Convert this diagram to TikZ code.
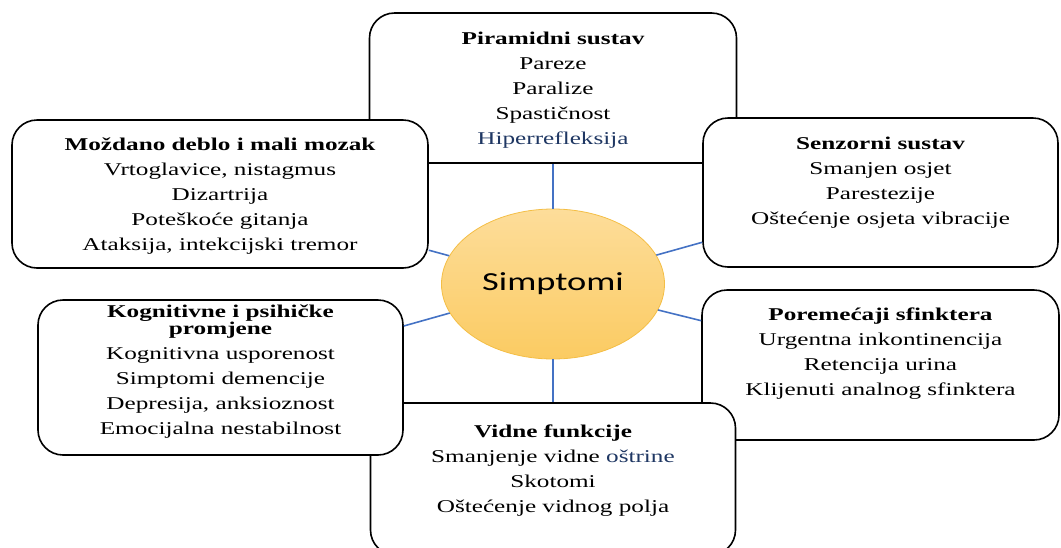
\documentclass[tikz,border=0pt]{standalone}
\usepackage{fontspec}
\setmainfont{Liberation Serif}[FakeStretch=1.4]
\newfontfamily\simfont{Carlito}[FakeStretch=1.4]
\usetikzlibrary{shapes.geometric,positioning}
\definecolor{linkblue}{HTML}{4472C4}
\definecolor{ovaltop}{HTML}{FDDD9A}
\definecolor{ovalbot}{HTML}{FBCB62}
\definecolor{ovalline}{HTML}{F4BE45}
\definecolor{navytxt}{HTML}{1F3763}

\begin{document}
\begin{tikzpicture}[x=1pt,y=-1pt]
		\tikzstyle{box}=[draw,line width=1.6pt,fill=white,rounded corners=25pt,inner sep=0pt]
		\tikzstyle{txt}=[align=center,inner sep=0pt,font=\fontsize{18}{25}\selectfont]
		\tikzstyle{link}=[draw=linkblue,line width=1.6pt]

		\useasboundingbox (0,0) rectangle (1061,547);

		\node[ellipse,draw=ovalline,line width=0.8pt,top color=ovaltop,bottom color=ovalbot,minimum width=223pt,minimum height=150pt,inner sep=0pt](simp) at (553,284){\simfont\fontsize{26}{30}\selectfont Simptomi};

		\node[box,minimum width=367pt,minimum height=150pt](piramid) at (553,88){};
		\node[box,minimum width=416pt,minimum height=148pt](mozdano) at (220,194){};
		\node[box,minimum width=355pt,minimum height=149pt](senzor) at (880.5,192.5){};
		\node[box,minimum width=357pt,minimum height=150pt](sfinkter) at (880.5,365){};
		\node[box,minimum width=365pt,minimum height=152pt](vidne) at (553,479){};
		\node[box,minimum width=365pt,minimum height=155pt](kognit) at (220.5,377.5){};

		\node[txt,below=20pt of piramid.north](piramid-t){\textbf{Piramidni sustav}\\Pareze\\Paralize\\Spastičnost\\\textcolor{navytxt}{Hiperrefleksija}};
		\node[txt,below=18pt of mozdano.north](mozdano-t){\textbf{Moždano deblo i mali mozak}\\Vrtoglavice, nistagmus\\Dizartrija\\Poteškoće gitanja\\Ataksija, intekcijski tremor};
		\node[txt,below=20pt of senzor.north](senzor-t){\textbf{Senzorni sustav}\\Smanjen osjet\\Parestezije\\Oštećenje osjeta vibracije};
		\node[txt,below=18pt of sfinkter.north](sfinkter-t){\textbf{Poremećaji sfinktera}\\Urgentna inkontinencija\\Retencija urina\\Klijenuti analnog sfinktera};
		\node[txt,below=22pt of vidne.north](vidne-t){\textbf{Vidne funkcije}\\Smanjenje vidne \textcolor{navytxt}{oštrine}\\Skotomi\\Oštećenje vidnog polja};
		\node[txt,below=5pt of kognit.north](kognit-t){\textbf{Kognitivne i psihičke}\\[-8pt]\textbf{promjene}\\Kognitivna usporenost\\Simptomi demencije\\Depresija, anksioznost\\Emocijalna nestabilnost};

		\draw[link] (simp) -- (piramid);
		\draw[link] (simp) -- (mozdano);
		\draw[link] (simp) -- (senzor);
		\draw[link] (simp) -- (sfinkter);
		\draw[link] (simp) -- (vidne);
		\draw[link] (simp) -- (kognit);
\end{tikzpicture}
\end{document}
